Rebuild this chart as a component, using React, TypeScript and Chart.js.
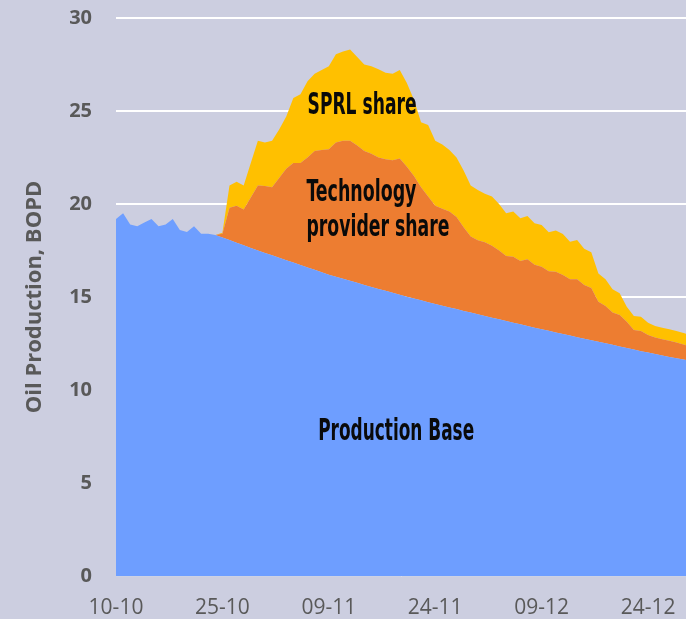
import React, { useEffect, useRef } from 'react';
import { Chart, registerables } from 'chart.js';

Chart.register(...registerables);

// x tick labels (every 15 days starting 10-10)
const xTickLabels = ['10-10', '25-10', '09-11', '24-11', '09-12', '24-12'];

// Daily production base, BOPD (day 0 = 10-10)
const productionBase = [
  19.2, 19.5, 18.9, 18.8, 19.0, 19.2, 18.8, 18.9, 19.2, 18.6, 18.5, 18.8, 18.4, 18.4, 18.33,
  18.2, 18.06, 17.92, 17.78, 17.64, 17.5, 17.37, 17.24, 17.11, 16.98, 16.85, 16.72, 16.59, 16.46, 16.33, 16.2,
  16.09, 15.98, 15.87, 15.76, 15.65, 15.54, 15.43, 15.33, 15.23, 15.12, 15.02, 14.92, 14.82, 14.72, 14.62,
  14.53, 14.44, 14.35, 14.25, 14.16, 14.07, 13.98, 13.89, 13.8, 13.71, 13.62, 13.53, 13.44, 13.35, 13.26,
  13.18, 13.09, 13.01, 12.93, 12.84, 12.76, 12.68, 12.59, 12.51, 12.43, 12.34, 12.26, 12.18, 12.09, 12.01,
  11.93, 11.86, 11.78, 11.71, 11.64, 11.57,
];

// Technology provider share, BOPD
const techShare = [
  0, 0, 0, 0, 0, 0, 0, 0, 0, 0, 0, 0, 0, 0, 0,
  0.2, 1.74, 1.98, 1.92, 2.71, 3.5, 3.6, 3.66, 4.29, 4.92, 5.35, 5.48, 5.91, 6.39, 6.57, 6.75,
  7.21, 7.42, 7.53, 7.39, 7.2, 7.16, 7.07, 7.07, 7.12, 7.33, 6.98, 6.58, 6.08, 5.68, 5.28,
  5.22, 5.16, 4.95, 4.5, 4.09, 3.98, 3.96, 3.86, 3.7, 3.49, 3.55, 3.41, 3.59, 3.38, 3.37,
  3.2, 3.27, 3.17, 3.02, 3.11, 2.89, 2.8, 2.16, 2.01, 1.73, 1.69, 1.41, 1.05, 1.08, 0.95,
  0.89, 0.87, 0.87, 0.84, 0.8, 0.78,
];

// SPRL share, BOPD
const sprlShare = [
  0, 0, 0, 0, 0, 0, 0, 0, 0, 0, 0, 0, 0, 0, 0,
  0.06, 1.2, 1.3, 1.3, 1.85, 2.4, 2.33, 2.5, 2.6, 2.8, 3.5, 3.7, 4.1, 4.15, 4.3, 4.45,
  4.75, 4.8, 4.9, 4.75, 4.65, 4.7, 4.75, 4.65, 4.65, 4.75, 4.5, 4.1, 3.5, 3.85, 3.5,
  3.45, 3.3, 3.2, 3.05, 2.75, 2.7, 2.61, 2.65, 2.5, 2.3, 2.43, 2.29, 2.32, 2.24, 2.24,
  2.1, 2.21, 2.21, 2.02, 2.11, 1.95, 1.92, 1.52, 1.44, 1.25, 1.17, 0.81, 0.75, 0.77, 0.66,
  0.62, 0.62, 0.61, 0.62, 0.62, 0.62,
];

// In-chart labels, anchored in data coordinates (day, BOPD)
const areaLabels = [
  { text: 'SPRL share', day: 27, value: 25.27, width: 109 },
  { text: 'Technology', day: 26.85, value: 20.6, width: 110 },
  { text: 'provider share', day: 26.85, value: 18.7, width: 143 },
  { text: 'Production Base', day: 28.5, value: 7.74, width: 156 },
];

const BG = '#cccee0';
const GREY = '#595959';

const labelPlugin = {
  id: 'areaLabels',
  afterDatasetsDraw(chart: any) {
    const { ctx, scales } = chart;
    ctx.save();
    ctx.fillStyle = '#0a0a0a';
    ctx.textBaseline = 'middle';
    ctx.textAlign = 'left';
    ctx.font = "bold 31px 'Liberation Sans Narrow', 'DejaVu Sans Condensed', 'Roboto', sans-serif";
    for (const l of areaLabels) {
      const px = scales.x.getPixelForValue(l.day);
      const py = scales.y.getPixelForValue(l.value);
      const w = ctx.measureText(l.text).width;
      const sx = l.width / w;
      ctx.save();
      ctx.translate(px, py);
      ctx.scale(sx, 1);
      ctx.fillText(l.text, 0, 0);
      ctx.restore();
    }
    ctx.restore();
  },
};

const bgPlugin = {
  id: 'bg',
  beforeDraw(chart: any) {
    const { ctx, width, height } = chart;
    ctx.save();
    ctx.fillStyle = BG;
    ctx.fillRect(0, 0, width, height);
    ctx.restore();
  },
};

export default function App() {
  const ref = useRef<HTMLCanvasElement | null>(null);

  useEffect(() => {
    document.body.style.margin = '0';
    document.body.style.overflow = 'hidden';
    document.body.style.background = BG;
    if (!ref.current) return;
    const toXY = (arr: number[]) => arr.map((v, i) => ({ x: i, y: v }));
    const chart = new Chart(ref.current, {
      type: 'line',
      data: {
        datasets: [
          {
            label: 'Production Base',
            data: toXY(productionBase),
            backgroundColor: '#6e9eff',
            borderWidth: 0,
            pointRadius: 0,
            fill: 'origin',
            tension: 0,
          },
          {
            label: 'Technology provider share',
            data: toXY(techShare),
            backgroundColor: '#ed7d31',
            borderWidth: 0,
            pointRadius: 0,
            fill: '-1',
            tension: 0,
          },
          {
            label: 'SPRL share',
            data: toXY(sprlShare),
            backgroundColor: '#ffc000',
            borderWidth: 0,
            pointRadius: 0,
            fill: '-1',
            tension: 0,
          },
        ],
      },
      options: {
        animation: false,
        responsive: false,
        devicePixelRatio: 1,
        layout: { padding: { top: 18, left: 0, right: 0, bottom: 0 } },
        plugins: { legend: { display: false }, tooltip: { enabled: false } },
        scales: {
          x: {
            type: 'linear',
            min: 0,
            max: 80.35,
            grid: { display: false, drawTicks: false },
            border: { display: true, color: 'rgba(200,205,225,0.9)', width: 1 },
            ticks: {
              stepSize: 15,
              includeBounds: false,
              autoSkip: false,
              maxRotation: 0,
              padding: 19,
              color: GREY,
              font: { family: "'Open Sans', sans-serif", size: 21 },
              callback: (v: any) => {
                const i = Number(v) / 15;
                return Number.isInteger(i) && xTickLabels[i] ? xTickLabels[i] : '';
              },
            },
            afterFit: (s: any) => {
              s.height = 43;
              s.paddingLeft = 0;
              s.paddingRight = 0;
            },
          },
          y: {
            stacked: true,
            min: 0,
            max: 30,
            grid: { color: '#ffffff', lineWidth: 2, drawTicks: false },
            border: { display: false },
            ticks: {
              stepSize: 5,
              padding: 24,
              color: GREY,
              font: { family: "'Open Sans', sans-serif", size: 20, weight: 'bold' },
            },
            title: {
              display: true,
              text: 'Oil Production, BOPD',
              color: GREY,
              font: { family: "'Open Sans', sans-serif", size: 22, weight: 'bold' },
              padding: { top: 22, bottom: 0 },
            },
            afterFit: (s: any) => {
              s.width = 116;
              s.paddingTop = 0;
              s.paddingBottom = 0;
            },
          },
        },
      },
      plugins: [bgPlugin, labelPlugin],
    } as any);
    return () => chart.destroy();
  }, []);

  return (
    <div style={{ width: 686, height: 619, background: BG, overflow: 'hidden' }}>
      <canvas ref={ref} width={686} height={619} style={{ display: 'block' }} />
    </div>
  );
}
